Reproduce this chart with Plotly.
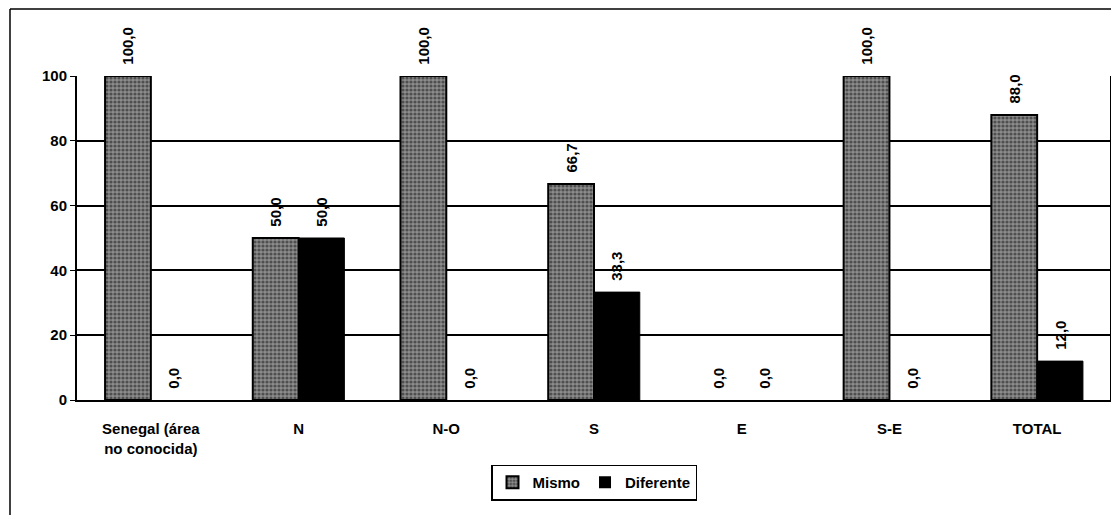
import plotly.graph_objects as go

# datos
categorias = ["Senegal (área<br>no conocida)", "N", "N-O", "S", "E", "S-E", "TOTAL"]
mismo = [100.0, 50.0, 100.0, 66.7, 0.0, 100.0, 88.0]
diferente = [0.0, 50.0, 0.0, 33.3, 0.0, 0.0, 12.0]


def etiqueta(v):
    # espacio no separable delante para separar la etiqueta de la barra
    return "\u00a0\u00a0" + f"{v:.1f}".replace(".", ",")


fuente = dict(family="Liberation Sans, Arial", size=14, color="black", weight="bold")

fig = go.Figure()
fig.add_trace(go.Bar(
    x=categorias, y=mismo, name="Mismo",
    text=[etiqueta(v) for v in mismo],
    marker=dict(color="#8c8c8c",
                line=dict(color="black", width=[2 if v > 0 else 0 for v in mismo]),
                pattern=dict(shape=".", fgcolor="#111111", size=4, solidity=0.5)),
))
fig.add_trace(go.Bar(
    x=categorias, y=diferente, name="Diferente",
    text=[etiqueta(v) for v in diferente],
    marker=dict(color="black",
                line=dict(color="black", width=[1 if v > 0 else 0 for v in diferente])),
))

fig.update_traces(textposition="outside", textangle=-90, cliponaxis=False,
                  textfont=dict(family="Liberation Sans, Arial", size=15, color="black"))

# la página html añade 8px de margen al body: se compensa aquí
fig.update_layout(
    width=1111, height=507,
    margin=dict(l=69, r=8, t=68, b=115, autoexpand=False),
    plot_bgcolor="white", paper_bgcolor="white",
    font=fuente,
    barmode="group", bargap=0.38, bargroupgap=0,
    showlegend=True,
    legend=dict(orientation="h", x=0.5, xanchor="center", y=-0.255, yanchor="middle",
                bordercolor="black", borderwidth=1.5, font=dict(size=15, weight="bold"),
                itemwidth=30, tracegroupgap=0),
    xaxis=dict(showline=True, linecolor="black", linewidth=2, mirror=False, automargin=False,
               ticks="", ticklabelstandoff=14, tickfont=dict(size=15, weight="bold")),
    yaxis=dict(range=[0, 100], dtick=20, showgrid=True, gridcolor="black", gridwidth=2,
               showline=True, linecolor="black", linewidth=2, ticks="outside", automargin=False,
               ticklen=5, tickcolor="black", tickfont=dict(size=15, weight="bold"), zeroline=False),
    shapes=[
        dict(type="line", xref="paper", yref="paper", x0=1, x1=1, y0=0, y1=1,
             line=dict(color="black", width=2)),
        dict(type="line", xref="paper", yref="paper", x0=-0.0648, x1=-0.0648, y0=-0.4, y1=1.207,
             line=dict(color="black", width=1.5)),
        dict(type="line", xref="paper", yref="paper", x0=-0.0648, x1=1.1, y0=1.207, y1=1.207,
             line=dict(color="black", width=1.5)),
    ],
)

fig.write_html("out.html")
